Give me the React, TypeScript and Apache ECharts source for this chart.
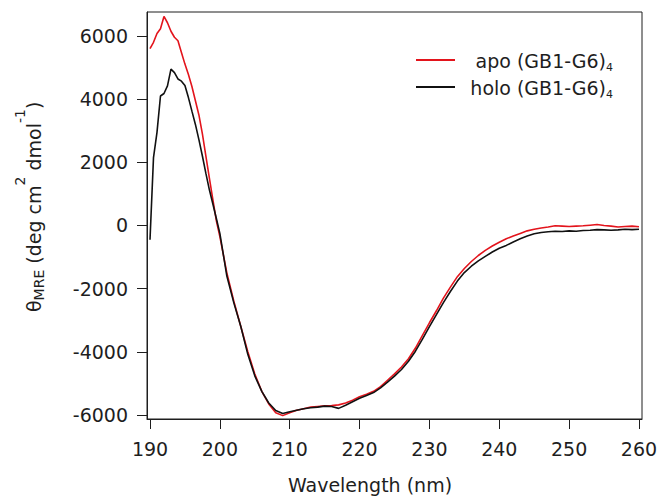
import { useEffect, useRef } from 'react';
import * as echarts from 'echarts';

// Wavelength grid (nm): half-nm steps through the far-UV peak, then 1 nm steps
const wavelengths = [
  190, 190.5, 191, 191.5, 192, 192.5, 193, 193.5, 194, 194.5,
  195, 195.5, 196, 196.5, 197, 197.5, 198, 198.5, 199, 199.5, 200,
  201, 202, 203, 204, 205, 206, 207, 208, 209, 210,
  211, 212, 213, 214, 215, 216, 217, 218, 219, 220,
  221, 222, 223, 224, 225, 226, 227, 228, 229, 230,
  231, 232, 233, 234, 235, 236, 237, 238, 239, 240,
  241, 242, 243, 244, 245, 246, 247, 248, 249, 250,
  251, 252, 253, 254, 255, 256, 257, 258, 259, 260,
];

// Mean residue ellipticity, apo (GB1-G6)4
const apoValues = [
  5600, 5800, 6080, 6230, 6620, 6420, 6150, 5960, 5850, 5480,
  5110, 4780, 4400, 3950, 3500, 2900, 2200, 1500, 820, 150, -350,
  -1500, -2400, -3200, -4000, -4700, -5250, -5650, -5930, -6020, -5930,
  -5850, -5800, -5750, -5730, -5710, -5700, -5680, -5620, -5530, -5420,
  -5340, -5250, -5100, -4900, -4700, -4480, -4220, -3880, -3480, -3080,
  -2700, -2300, -1950, -1620, -1360, -1140, -950, -790, -650, -530,
  -420, -330, -250, -170, -120, -80, -50, -10, -20, -30,
  -20, -10, 10, 30, 0, -20, -50, -30, -20, -40,
];

// Mean residue ellipticity, holo (GB1-G6)4
const holoValues = [
  -450, 2150, 2950, 4100, 4180, 4420, 4950, 4840, 4640, 4570,
  4430, 4050, 3620, 3200, 2720, 2200, 1650, 1130, 680, 220, -250,
  -1600, -2450, -3200, -4080, -4760, -5250, -5620, -5860, -5950, -5900,
  -5850, -5800, -5770, -5750, -5720, -5730, -5790, -5690, -5580, -5470,
  -5380, -5290, -5140, -4960, -4770, -4560, -4300, -3980, -3600, -3200,
  -2820, -2440, -2090, -1760, -1490, -1290, -1120, -980, -840, -720,
  -630, -520, -420, -330, -260, -220, -200, -180, -190, -170,
  -180, -160, -150, -130, -140, -150, -140, -120, -130, -120,
];

const xTicks = [190, 200, 210, 220, 230, 240, 250, 260];
const yTicks = [-6000, -4000, -2000, 0, 2000, 4000, 6000];

const FONT = '"DejaVu Sans", sans-serif';
const INK = '#1e1e1e';
const RED = '#e3141c';
const BLACK = '#111111';

export default function App() {
  const ref = useRef<HTMLDivElement>(null);

  useEffect(() => {
    const el = ref.current;
    if (!el) return;
    const chart = echarts.init(el, null, { renderer: 'svg' });

    // measure text runs so the rotated axis title can be laid out piece by piece
    const ctx = document.createElement('canvas').getContext('2d');
    const measure = (t: string, size: number) => {
      if (!ctx) return t.length * size * 0.6;
      ctx.font = `${size}px "DejaVu Sans"`;
      return ctx.measureText(t).width;
    };

    const titleRuns = [
      { t: 'θ', s: 19, dy: 0 },
      { t: 'MRE', s: 14, dy: 5 },
      { t: ' (deg cm', s: 19, dy: 0 },
      { t: '2', s: 14, dy: -14 },
      { t: ' dmol', s: 19, dy: 0 },
      { t: '-1', s: 14, dy: -14 },
      { t: ')', s: 19, dy: 0 },
    ];
    let cursor = 0;
    const titleChildren = titleRuns.map((r) => {
      const node = {
        type: 'text',
        x: cursor,
        y: r.dy,
        style: {
          text: r.t,
          font: `${r.s}px ${FONT}`,
          fill: INK,
          align: 'left',
          verticalAlign: 'middle',
        },
      };
      cursor += measure(r.t, r.s);
      return node;
    });

    const axisText = { fontSize: 19, fontFamily: FONT, color: INK };

    chart.setOption({
      animation: false,
      backgroundColor: '#ffffff',
      grid: {
        left: 147,
        top: 12,
        width: 495,
        height: 407,
        show: true,
        borderColor: INK,
        borderWidth: 1,
        backgroundColor: 'transparent',
        containLabel: false,
        outerBoundsMode: 'none',
      },
      xAxis: {
        type: 'value',
        min: 189.57,
        max: 260.43,
        axisLine: { show: true, onZero: false, lineStyle: { color: INK, width: 1 } },
        axisTick: { show: true, length: 10, customValues: xTicks, lineStyle: { color: INK, width: 1 } },
        axisLabel: {
          ...axisText,
          margin: 20,
          customValues: xTicks,
          formatter: (v: number) => String(v),
        },
        splitLine: { show: false },
      },
      yAxis: {
        type: 'value',
        min: -6127,
        max: 6760,
        axisLine: { show: true, onZero: false, lineStyle: { color: INK, width: 1 } },
        axisTick: { show: true, length: 10, customValues: yTicks, lineStyle: { color: INK, width: 1 } },
        axisLabel: {
          ...axisText,
          margin: 19,
          customValues: yTicks,
          formatter: (v: number) => String(v),
        },
        splitLine: { show: false },
      },
      series: [
        {
          name: 'apo',
          type: 'line',
          showSymbol: false,
          data: wavelengths.map((w, i) => [w, apoValues[i]]),
          lineStyle: { color: RED, width: 1.6 },
          itemStyle: { color: RED },
          z: 2,
        },
        {
          name: 'holo',
          type: 'line',
          showSymbol: false,
          data: wavelengths.map((w, i) => [w, holoValues[i]]),
          lineStyle: { color: BLACK, width: 1.6 },
          itemStyle: { color: BLACK },
          z: 3,
        },
      ],
      graphic: [
        // legend
        { type: 'line', shape: { x1: 416, y1: 60, x2: 455, y2: 60 }, style: { stroke: RED, lineWidth: 2 } },
        {
          type: 'text', x: 606, y: 61,
          style: { text: 'apo (GB1-G6)', font: `19px ${FONT}`, fill: INK, align: 'right', verticalAlign: 'middle' },
        },
        {
          type: 'text', x: 606, y: 67,
          style: { text: '4', font: `11px ${FONT}`, fill: INK, align: 'left', verticalAlign: 'middle' },
        },
        { type: 'line', shape: { x1: 416, y1: 87, x2: 455, y2: 87 }, style: { stroke: BLACK, lineWidth: 2 } },
        {
          type: 'text', x: 606, y: 88,
          style: { text: 'holo (GB1-G6)', font: `19px ${FONT}`, fill: INK, align: 'right', verticalAlign: 'middle' },
        },
        {
          type: 'text', x: 606, y: 94,
          style: { text: '4', font: `11px ${FONT}`, fill: INK, align: 'left', verticalAlign: 'middle' },
        },
        // x axis title
        {
          type: 'text', x: 370, y: 485,
          style: { text: 'Wavelength (nm)', font: `19px ${FONT}`, fill: INK, align: 'center', verticalAlign: 'middle' },
        },
        // y axis title, rotated to read bottom-to-top
        {
          type: 'group',
          x: 34,
          y: 312,
          rotation: Math.PI / 2,
          children: titleChildren,
        },
      ],
    });

    return () => chart.dispose();
  }, []);

  return (
    <div
      ref={ref}
      style={{ position: 'fixed', left: 0, top: 0, width: 659, height: 500, background: '#fff' }}
    />
  );
}
